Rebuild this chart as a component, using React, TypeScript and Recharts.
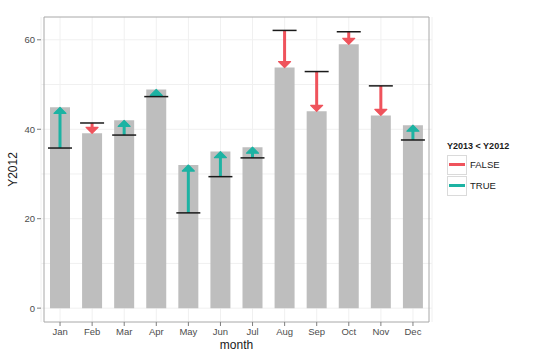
import React from 'react';
import {
  ComposedChart,
  Bar,
  XAxis,
  YAxis,
  CartesianGrid,
  ReferenceArea,
  Legend,
} from 'recharts';

const months = ['Jan', 'Feb', 'Mar', 'Apr', 'May', 'Jun', 'Jul', 'Aug', 'Sep', 'Oct', 'Nov', 'Dec'];
const y2012 = [44.9, 39.1, 42.0, 48.9, 32.0, 35.0, 36.0, 53.8, 44.0, 59.0, 43.1, 40.9];
const y2013 = [35.8, 41.4, 38.7, 47.3, 21.3, 29.4, 33.6, 62.1, 52.9, 61.8, 49.7, 37.6];
const yTicks = [0, 20, 40, 60];
const gridValues = [0, 10, 20, 30, 40, 50, 60];

const RED = '#EF535C';
const TEAL = '#1DB3A3';
const FONT = '"Liberation Sans", Arial, sans-serif';

const data = months.map((m, i) => ({ month: m, y2012: y2012[i], y2013: y2013[i] }));

// arrow from Y2013 (black tick) to Y2012 (bar top)
const ArrowShape = (props: any) => {
  const { x, y, width, height, payload } = props;
  if (x == null || y == null) return null;
  const top = Math.min(y, y + height);
  const bot = Math.max(y, y + height);
  const cx = x + width / 2;
  const up = payload.y2013 < payload.y2012;
  const color = up ? TEAL : RED;
  const from = up ? bot : top;
  const to = up ? top : bot;
  const dir = up ? 1 : -1;
  const hw = 6;
  const hl = 6;
  return (
    <g>
      <line x1={cx} x2={cx} y1={from} y2={to + dir * hl * 0.8} stroke={color} strokeWidth={3} />
      <polygon
        points={`${cx},${to} ${cx - hw},${to + dir * hl} ${cx + hw},${to + dir * hl}`}
        fill={color}
        stroke={color}
        strokeWidth={1.2}
        strokeLinejoin="round"
      />
      <line x1={cx - 12} x2={cx + 12} y1={from} y2={from} stroke="#1a1a1a" strokeWidth={1.5} />
    </g>
  );
};

const LegendBox = () => (
  <div style={{ fontFamily: FONT, color: '#1a1a1a' }}>
    <div style={{ fontSize: 9, fontWeight: 'bold', marginBottom: 3, whiteSpace: 'nowrap' }}>Y2013 &lt; Y2012</div>
    {[
      { label: 'FALSE', color: RED },
      { label: 'TRUE', color: TEAL },
    ].map((k) => (
      <div key={k.label} style={{ display: 'flex', alignItems: 'center', height: 21 }}>
        <div
          style={{
            width: 20,
            height: 20,
            border: '1px solid #DADADA',
            display: 'flex',
            alignItems: 'center',
            justifyContent: 'center',
            boxSizing: 'border-box',
          }}
        >
          <div style={{ width: 16, height: 3, background: k.color }} />
        </div>
        <span style={{ fontSize: 9.5, marginLeft: 3 }}>{k.label}</span>
      </div>
    ))}
  </div>
);

export default function App() {
  const tick = { fontSize: 9.5, fill: '#4D4D4D', fontFamily: FONT };
  return (
    <div style={{ position: 'absolute', left: 0, top: 0, width: 540, height: 360, background: '#fff' }}>
      <ComposedChart width={540} height={360} data={data} margin={{ top: 17, right: 108, bottom: 0, left: 0 }}>
        <CartesianGrid
          xAxisId="m"
          stroke="#F0F0F0"
          strokeWidth={1}
          horizontalValues={gridValues}
        />
        <XAxis
          xAxisId="m"
          dataKey="month"
          height={38}
          padding={{ left: 3, right: 3 }}
          axisLine={false}
          tickSize={4}
          tickLine={{ stroke: '#7F7F7F' }}
          tick={tick}
          interval={0}
          label={({ viewBox }: any) => (
            <text
              x={viewBox.x + viewBox.width / 2}
              y={viewBox.y + 27}
              textAnchor="middle"
              fontSize={12}
              fontFamily={FONT}
              fill="#1a1a1a"
            >
              month
            </text>
          )}
        />
        <XAxis xAxisId="o" dataKey="month" hide padding={{ left: 3, right: 3 }} />
        <YAxis
          width={41}
          domain={[-3.1, 65.1]}
          ticks={yTicks}
          axisLine={false}
          tickSize={4}
          tickLine={{ stroke: '#7F7F7F' }}
          tick={tick}
          label={({ viewBox }: any) => (
            <text
              x={17}
              y={viewBox.y + viewBox.height / 2}
              transform={`rotate(-90 17 ${viewBox.y + viewBox.height / 2})`}
              textAnchor="middle"
              fontSize={12}
              fontFamily={FONT}
              fill="#1a1a1a"
            >
              Y2012
            </text>
          )}
        />
        <Bar xAxisId="m" dataKey="y2012" fill="#BEBEBE" barSize={20} isAnimationActive={false} legendType="none" />
        <Bar
          xAxisId="o"
          dataKey={(d: any) => [d.y2013, d.y2012]}
          barSize={24}
          shape={ArrowShape}
          isAnimationActive={false}
          legendType="none"
        />
        <ReferenceArea xAxisId="m" y1={-3.1} y2={65.1} fill="none" stroke="#A8A8A8" strokeWidth={1} ifOverflow="visible" />
        <Legend
          layout="horizontal"
          align="center"
          verticalAlign="middle"
          content={<LegendBox />}
          wrapperStyle={{ left: 447, top: 141, width: 90 }}
        />
      </ComposedChart>
    </div>
  );
}
